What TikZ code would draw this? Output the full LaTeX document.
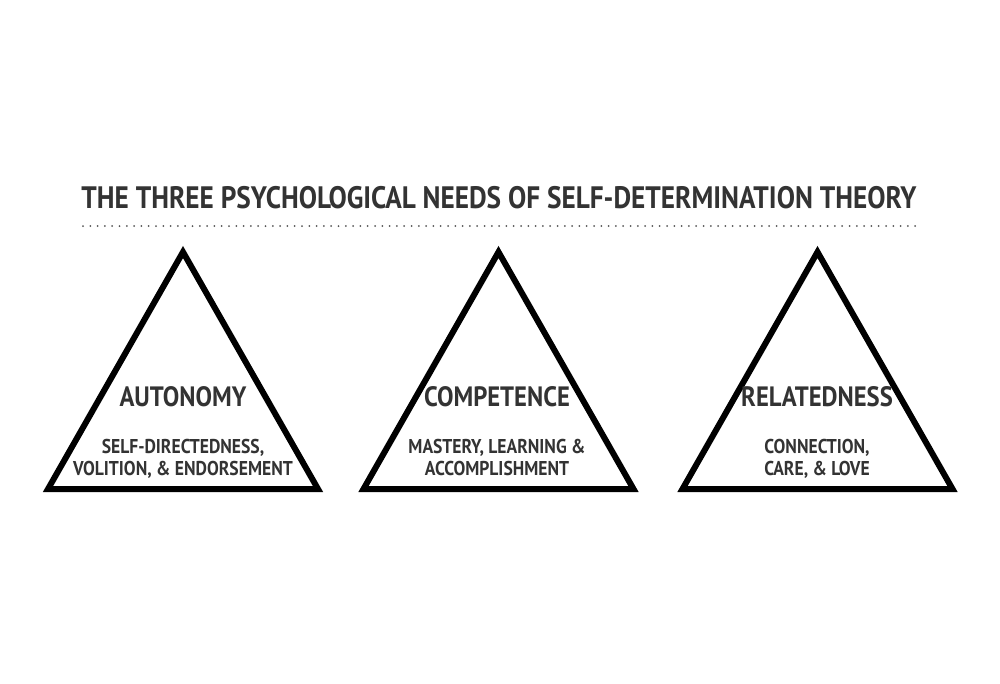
\documentclass[tikz,border=0pt]{standalone}
\usepackage{fontspec}
\newfontfamily\needsfont[FakeStretch=0.88]{PT Sans}
\usepackage{xcolor}
\definecolor{needink}{RGB}{51,51,51}
\definecolor{needdots}{RGB}{85,85,85}
\usetikzlibrary{positioning}

\begin{document}
\begin{tikzpicture}[
  x=1pt, y=-1pt,
  needtri/.style={draw=black, line width=6pt, line join=miter},
  heading/.style={
    font=\needsfont\bfseries\fontsize{31}{34}\selectfont,
    text=needink, inner sep=0pt
  },
  needname/.style={
    font=\needsfont\bfseries\fontsize{28}{30}\selectfont,
    text=needink, inner sep=0pt
  },
  needtext/.style={
    font=\needsfont\bfseries\fontsize{20}{22}\selectfont,
    text=needink, align=center, inner sep=0pt
  },
]
\useasboundingbox (0,0) rectangle (1000,683);

% Heading and dotted rule
\node[heading] (title) at (499,198) {THE THREE PSYCHOLOGICAL NEEDS OF SELF-DETERMINATION THEORY};
\coordinate (rule-l) at (83,226);
\coordinate (rule-r) at (918,226);
\draw[needdots, line width=2pt, line cap=round, dash pattern=on 0pt off 7.3pt] (rule-l) -- (rule-r);

% Three triangles
\draw[needtri] (183,252) -- (318,489) -- (48,489) -- cycle;
\draw[needtri] (498.5,252) -- (633.5,489) -- (363.5,489) -- cycle;
\draw[needtri] (817.5,252) -- (952.5,489) -- (682.5,489) -- cycle;

% Needs and their descriptions
\node[needname] (aut) at (183,397) {AUTONOMY};
\node[needtext, below=32pt of aut] (aut-sub) {SELF-DIRECTEDNESS,\\VOLITION, \& ENDORSEMENT};

\node[needname] (comp) at (497,397) {COMPETENCE};
\node[needtext, below=32pt of comp] (comp-sub) {MASTERY, LEARNING \&\\ACCOMPLISHMENT};

\node[needname] (rel) at (817,397) {RELATEDNESS};
\node[needtext, below=32pt of rel] (rel-sub) {CONNECTION,\\CARE, \& LOVE};

\end{tikzpicture}
\end{document}
